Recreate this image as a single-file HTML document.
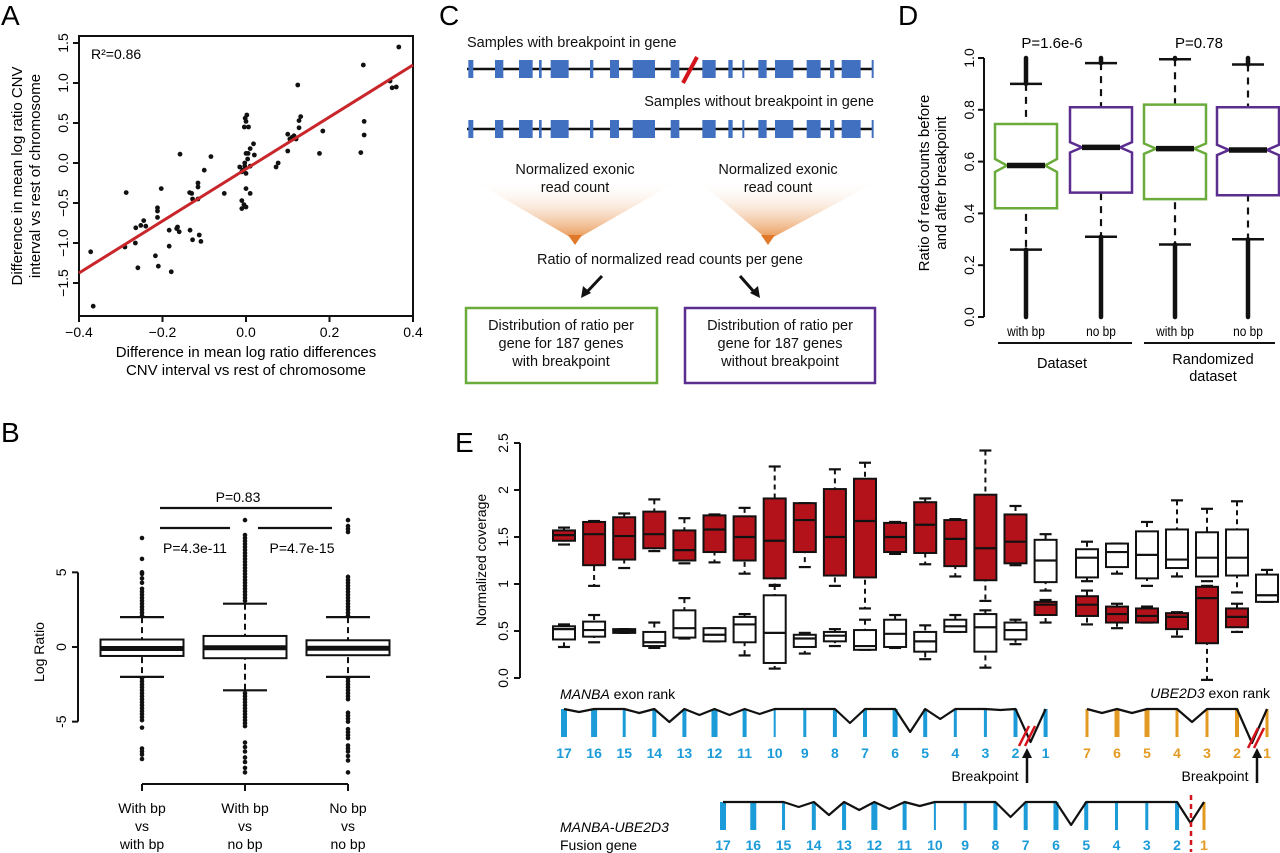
<!DOCTYPE html>
<html><head><meta charset="utf-8"><style>
html,body{margin:0;padding:0;background:#fff;}
svg{display:block;font-family:"Liberation Sans",sans-serif;}
</style></head><body>
<svg id="fig" width="1280" height="853" viewBox="0 0 1280 853" xmlns="http://www.w3.org/2000/svg">
<defs>
<linearGradient id="funnel" x1="0" y1="0" x2="0" y2="1">
<stop offset="0" stop-color="#fff" stop-opacity="0"/>
<stop offset="1" stop-color="#e8914a"/>
</linearGradient>
</defs>
<!-- panel letters -->
<text x="1" y="25" font-size="28">A</text>
<text x="1" y="442" font-size="28">B</text>
<text x="439" y="25" font-size="28">C</text>
<text x="898" y="25" font-size="28">D</text>
<text x="455" y="452" font-size="28">E</text>

<!-- Panel A -->
<g id="pa">
<rect x="79" y="36" width="334" height="280" fill="none" stroke="#111" stroke-width="2"/>
<text x="91" y="59" font-size="14">R²=0.86</text>
<text x="246" y="357" font-size="15" text-anchor="middle">Difference in mean log ratio differences</text>
<text x="246" y="375" font-size="15" text-anchor="middle">CNV interval vs rest of chromosome</text>
<text transform="translate(22,176) rotate(-90)" font-size="15" text-anchor="middle">Difference in mean log ratio CNV</text>
<text transform="translate(40,176) rotate(-90)" font-size="15" text-anchor="middle">interval vs rest of chromosome</text>
</g>

<!-- Panel B -->
<g id="pb">
<text transform="translate(44,652) rotate(-90)" font-size="14" text-anchor="middle">Log Ratio</text>
<line x1="160" y1="508" x2="332" y2="508" stroke="#111" stroke-width="2.2"/>
<line x1="160" y1="528" x2="230" y2="528" stroke="#111" stroke-width="2.2"/>
<line x1="258" y1="528" x2="332" y2="528" stroke="#111" stroke-width="2.2"/>
<text x="238" y="502" font-size="14" text-anchor="middle">P=0.83</text>
<text x="195" y="553" font-size="14" text-anchor="middle">P=4.3e-11</text>
<text x="302" y="553" font-size="14" text-anchor="middle">P=4.7e-15</text>
</g>

<!-- Panel C -->
<g id="pc" font-size="14.5" fill="#111">
<text x="467" y="47">Samples with breakpoint in gene</text>
<text x="874" y="106" text-anchor="end">Samples without breakpoint in gene</text>
<polygon points="472,180 680,180 575,240" fill="url(#funnel)"/>
<polygon points="698,180 880,180 768,240" fill="url(#funnel)"/>
<polygon points="568,235 582,235 575,245" fill="#e07a2a"/>
<polygon points="761,235 775,235 768,245" fill="#e07a2a"/>
<text x="575" y="174" text-anchor="middle">Normalized exonic</text>
<text x="575" y="192" text-anchor="middle">read count</text>
<text x="778" y="174" text-anchor="middle">Normalized exonic</text>
<text x="778" y="192" text-anchor="middle">read count</text>
<text x="670" y="264" text-anchor="middle">Ratio of normalized read counts per gene</text>
<line x1="602" y1="276" x2="586" y2="293" stroke="#111" stroke-width="3"/>
<polygon points="581,298 583,286 591,293" fill="#111"/>
<line x1="740" y1="276" x2="755" y2="293" stroke="#111" stroke-width="3"/>
<polygon points="760,298 750,293 758,286" fill="#111"/>
<rect x="466" y="308" width="191" height="75" fill="none" stroke="#6aab3b" stroke-width="2.5"/>
<rect x="685" y="308" width="190" height="75" fill="none" stroke="#5b2d8e" stroke-width="2.5"/>
<text x="561" y="330" text-anchor="middle">Distribution of ratio per</text>
<text x="561" y="348" text-anchor="middle">gene for 187 genes</text>
<text x="561" y="366" text-anchor="middle">with breakpoint</text>
<text x="780" y="330" text-anchor="middle">Distribution of ratio per</text>
<text x="780" y="348" text-anchor="middle">gene for 187 genes</text>
<text x="780" y="366" text-anchor="middle">without breakpoint</text>
</g>

<!-- Panel D -->
<g id="pd">
<text x="1052" y="48" font-size="15" text-anchor="middle">P=1.6e-6</text>
<text x="1199" y="48" font-size="15" text-anchor="middle">P=0.78</text>
<text transform="translate(929,183) rotate(-90)" font-size="15" text-anchor="middle">Ratio of readcounts before</text>
<text transform="translate(946,183) rotate(-90)" font-size="15" text-anchor="middle">and after breakpoint</text>
<line x1="998" y1="343" x2="1132" y2="343" stroke="#111" stroke-width="2"/>
<line x1="1144" y1="343" x2="1275" y2="343" stroke="#111" stroke-width="2"/>
<text x="1062" y="368" font-size="14.5" text-anchor="middle">Dataset</text>
<text x="1213" y="364" font-size="14.5" text-anchor="middle">Randomized</text>
<text x="1213" y="381" font-size="14.5" text-anchor="middle">dataset</text>
</g>

<!-- Panel E -->
<g id="pe">
<text transform="translate(486,560) rotate(-90)" font-size="14" text-anchor="middle">Normalized coverage</text>
<text x="560" y="699" font-size="14"><tspan font-style="italic">MANBA</tspan> exon rank</text>
<text x="1270" y="698" font-size="14" text-anchor="end"><tspan font-style="italic">UBE2D3</tspan> exon rank</text>
<text x="560" y="832" font-size="14" font-style="italic">MANBA-UBE2D3</text>
<text x="560" y="850" font-size="14">Fusion gene</text>
<text x="985" y="781" font-size="14" text-anchor="middle">Breakpoint</text>
<text x="1215" y="781" font-size="14" text-anchor="middle">Breakpoint</text>
</g>
</svg>
<script>
// ---------- Panel A data ----------
const aX = [0.366,0.281,0.345,0.35,0.36,0.283,0.283,0.275,0.184,0.176,0.124,0.131,0.127,0.127,0.10,0.11,0.115,0.12,0.105,0.10,0.077,0.072,0.002,-0.002,0.0,-0.004,0.006,0.018,0.01,0.02,0.0,0.005,-0.003,-0.003,-0.008,-0.015,-0.01,0.0,0.01,0.004,0.0,0.01,-0.01,-0.01,-0.005,0.0,-0.052,-0.084,-0.10,-0.115,-0.115,-0.115,-0.128,-0.135,-0.13,-0.134,-0.112,-0.128,-0.108,-0.164,-0.166,-0.16,-0.184,-0.184,-0.158,-0.203,-0.212,-0.212,-0.212,-0.217,-0.210,-0.179,-0.24,-0.245,-0.252,-0.264,-0.265,-0.259,-0.287,-0.29,-0.372,-0.366];
const aY = [1.45,1.225,1.025,0.94,0.95,0.52,0.35,0.13,0.40,0.12,0.975,0.58,0.53,0.44,0.36,0.32,0.34,0.30,0.30,0.15,0.0,-0.05,0.60,0.56,0.52,0.45,0.45,0.24,0.18,0.10,0.12,0.12,0.00,-0.04,-0.09,-0.05,-0.11,-0.13,-0.04,0.05,-0.32,-0.38,-0.47,-0.57,-0.52,-0.55,-0.38,0.08,-0.09,-0.25,-0.30,-0.45,-0.45,-0.37,-0.38,-0.84,-0.90,-0.96,-0.98,-0.80,-0.82,-0.86,-0.84,-1.04,0.11,-0.32,-0.56,-0.60,-0.68,-1.16,-1.29,-1.36,-0.79,-0.72,-0.78,-0.81,-1.0,-1.31,-0.37,-1.05,-1.11,-1.79];
const aXTicks = [-0.4,-0.2,0.0,0.2,0.4];
const aXTickLabels = ["\u22120.4","\u22120.2","0.0","0.2","0.4"];
const aYTicks = [-1.5,-1.0,-0.5,0.0,0.5,1.0,1.5];
const aYTickLabels = ["\u22121.5","\u22121.0","\u22120.5","0.0","0.5","1.0","1.5"];
const aFit = [3.25, -0.075]; // slope, intercept

// ---------- Panel B data ----------
const bCats = ["With bp|vs|with bp","With bp|vs|no bp","No bp|vs|no bp"];
const bQ1 = [-0.6,-0.75,-0.55];
const bMed = [-0.1,-0.05,-0.08];
const bQ3 = [0.5,0.74,0.45];
const bWLo = [-2.0,-2.9,-2.0];
const bWHi = [2.0,2.9,2.0];
const bOutHi0 = [2.1,2.3,2.5,2.7,2.9,3.1,3.3,3.5,3.7,3.9,4.3,4.6,4.9,5.0,5.9,7.3];
const bOutLo0 = [-2.1,-2.3,-2.5,-2.7,-2.9,-3.1,-3.3,-3.5,-3.7,-3.9,-4.1,-4.3,-4.5,-4.7,-4.9,-5.4,-6.8,-7.0,-7.2,-7.5];
const bOutHi1 = [3.1,3.3,3.5,3.7,3.9,4.1,4.3,4.5,4.7,4.9,5.1,5.3,5.5,5.7,5.9,6.1,6.3,6.5,6.7,6.9,7.1,7.3,7.5,8.5];
const bOutLo1 = [-3.1,-3.3,-3.5,-3.7,-3.9,-4.1,-4.3,-4.5,-4.7,-4.9,-5.1,-5.3,-6.4,-6.7,-7.0,-7.4,-7.7,-8.1,-8.4];
const bOutHi2 = [2.1,2.3,2.5,2.7,2.9,3.1,3.3,3.5,3.7,3.9,4.1,4.3,4.5,4.7,7.7,7.9,8.1,8.5];
const bOutLo2 = [-2.1,-2.3,-2.5,-2.7,-2.9,-3.1,-3.3,-3.5,-4.4,-4.6,-4.8,-5.0,-5.5,-5.7,-5.9,-6.1,-6.6,-6.8,-7.0,-7.3,-7.6,-8.4];
const bYTicks = [-5,0,5];
const bYTickLabels = ["-5","0","5"];

// ---------- Panel D data ----------
const dCats = ["with bp","no bp","with bp","no bp"];
const dQ1 = [0.42,0.48,0.455,0.47];
const dMed = [0.585,0.655,0.65,0.645];
const dQ3 = [0.745,0.81,0.82,0.81];
const dNotch = [0.025,0.02,0.02,0.02];
const dWHi = [0.90,0.98,0.995,0.975];
const dWLo = [0.26,0.31,0.28,0.30];
const dOutHiMax = [1.0,1.0,1.0,1.0];
const dOutLoMin = [0.0,0.0,0.0,0.0];
const dYTicks = [0.0,0.2,0.4,0.6,0.8,1.0];
const dYTickLabels = ["0.0","0.2","0.4","0.6","0.8","1.0"];

// ---------- Panel E data ----------
const eManbaRanks = [17,16,15,14,13,12,11,10,9,8,7,6,5,4,3,2,1];
const eUbeRanks = [7,6,5,4,3,2,1];
const eRedWLo = [1.42,0.98,1.17,1.35,1.22,1.23,1.11,0.98,1.18,0.98,0.74,1.32,1.21,1.08,0.82,1.20];
const eRedQ1  = [1.46,1.20,1.26,1.38,1.25,1.34,1.25,1.06,1.34,1.09,1.07,1.34,1.33,1.19,1.04,1.22];
const eRedMed = [1.52,1.53,1.51,1.53,1.36,1.58,1.50,1.46,1.68,1.50,1.67,1.50,1.63,1.48,1.38,1.45];
const eRedQ3  = [1.57,1.66,1.71,1.77,1.57,1.73,1.72,1.91,1.86,2.01,2.12,1.65,1.87,1.68,1.95,1.74];
const eRedWHi = [1.60,1.67,1.75,1.90,1.70,1.74,1.81,2.25,1.86,2.22,2.29,1.66,1.91,1.69,2.42,1.83];
const eWhtWLo = [0.33,0.38,0.48,0.32,0.42,0.39,0.24,0.10,0.26,0.34,0.30,0.32,0.20,0.49,0.11,0.36];
const eWhtQ1  = [0.41,0.44,0.48,0.34,0.43,0.39,0.38,0.16,0.33,0.39,0.30,0.33,0.28,0.49,0.28,0.41];
const eWhtMed = [0.52,0.51,0.50,0.38,0.53,0.46,0.57,0.48,0.42,0.45,0.34,0.47,0.39,0.55,0.54,0.51];
const eWhtQ3  = [0.55,0.60,0.52,0.49,0.72,0.53,0.65,0.88,0.46,0.49,0.51,0.62,0.49,0.62,0.68,0.59];
const eWhtWHi = [0.57,0.67,0.52,0.59,0.85,0.53,0.68,0.99,0.48,0.52,0.62,0.67,0.56,0.67,0.72,0.62];
const eEx1White = [0.93,1.02,1.25,1.47,1.53];
const eEx1Red = [0.59,0.67,0.78,0.81,0.83];
const eUWWLo = [1.03,1.11,0.98,1.08,1.03,0.91,0.81];
const eUWQ1  = [1.07,1.18,1.06,1.17,1.08,1.09,0.81];
const eUWMed = [1.28,1.34,1.31,1.26,1.28,1.28,0.88];
const eUWQ3  = [1.37,1.43,1.56,1.58,1.55,1.58,1.10];
const eUWWHi = [1.45,1.43,1.66,1.89,1.80,1.88,1.15];
const eURWLo = [0.57,0.53,0.59,0.44,-0.02,0.49];
const eURQ1  = [0.66,0.59,0.59,0.52,0.37,0.54];
const eURMed = [0.78,0.68,0.66,0.65,0.85,0.65];
const eURQ3  = [0.87,0.76,0.74,0.69,0.97,0.74];
const eURWHi = [0.93,0.79,0.76,0.70,0.98,0.79];
const eYTicks = [0,0.5,1,1.5,2,2.5];
const eYTickLabels = ["0.0","0.5","1","1.5","2","2.5"];
const eManbaExonW = [6,6,3,4,4,6,4,2,3,4,4,5,4,3,3,4,4];
const eManbaDips = [3,0,4,13,6,6,5,0,0,14,0,23,10,0,1,33];
const eUbeExonW = [3,5,5,3,3,4,3];
const eUbeDips = [4,4,0,13,0,34];
const eFusionRanks = [17,16,15,14,13,12,11,10,9,8,7,6,5,4,3,2,1];
const eFusionExonW = [6,6,3,4,4,6,4,2,3,4,4,5,4,3,3,4,3];
const eFusionDips = [0,0,5,13,8,7,4,0,0,15,0,23,0,0,0,21];

const NS = "http://www.w3.org/2000/svg";
function mk(tag, attrs, parent) {
  const el = document.createElementNS(NS, tag);
  for (const k in attrs) el.setAttribute(k, attrs[k]);
  parent.appendChild(el);
  return el;
}

// ===== Panel A =====
(function(){
  const g = document.getElementById('pa');
  const sx = v => 246 + 417.5 * v;
  const sy = v => 163 - 80 * v;
  aXTicks.forEach((t, i) => {
    const l = mk('line', {x1: sx(t), y1: 316, x2: sx(t), y2: 322, stroke: '#111', 'stroke-width': 2}, g);
    
    
    const tx = mk('text', {x: sx(t), y: 337, 'font-size': 14, 'text-anchor': 'middle'}, g);
    tx.textContent = aXTickLabels[i];
    
    
  });
  aYTicks.forEach((t, i) => {
    const l = mk('line', {x1: 73, y1: sy(t), x2: 79, y2: sy(t), stroke: '#111', 'stroke-width': 2}, g);
    
    
    const tx = mk('text', {transform: `translate(68,${sy(t)}) rotate(-90)`, 'font-size': 14, 'text-anchor': 'middle'}, g);
    tx.textContent = aYTickLabels[i];
    
    
  });
  aX.forEach((x, i) => {
    const c = mk('circle', {cx: sx(x), cy: sy(aY[i]), r: 2.4, fill: '#111'}, g);
    
    
  });
  const fl = mk('line', {x1: sx(-0.4), y1: sy(aFit[0]*-0.4+aFit[1]), x2: sx(0.4), y2: sy(aFit[0]*0.4+aFit[1]), stroke: '#c8262a', 'stroke-width': 3}, g);
  
  
})();

// ===== Panel B =====
(function(){
  const g = document.getElementById('pb');
  const sy = v => 647 - 14.93 * v;
  const cx = [142, 245, 348];
  const ax = mk('line', {x1: 78, y1: sy(5), x2: 78, y2: sy(-5), stroke: '#111', 'stroke-width': 2}, g);
  
  
  bYTicks.forEach((t, i) => {
    const l = mk('line', {x1: 72, y1: sy(t), x2: 78, y2: sy(t), stroke: '#111', 'stroke-width': 2}, g);
    
    
    const tx = mk('text', {transform: `translate(66,${sy(t)}) rotate(-90)`, 'font-size': 14, 'text-anchor': 'middle'}, g);
    tx.textContent = bYTickLabels[i];
    
    
  });
  const xa = mk('line', {x1: cx[0], y1: 784, x2: cx[2], y2: 784, stroke: '#111', 'stroke-width': 2}, g);
  
  
  const outs = [[bOutHi0, bOutLo0], [bOutHi1, bOutLo1], [bOutHi2, bOutLo2]];
  bCats.forEach((cat, i) => {
    const x = cx[i];
    const tk = mk('line', {x1: x, y1: 784, x2: x, y2: 791, stroke: '#111', 'stroke-width': 2}, g);
    
    
    cat.split('|').forEach((line, j) => {
      const t = mk('text', {x: x, y: 813 + j * 18, 'font-size': 14, 'text-anchor': 'middle'}, g);
      t.textContent = line;
      
      
    });
    const w1 = mk('line', {x1: x, y1: sy(bWHi[i]), x2: x, y2: sy(bWLo[i]), stroke: '#111', 'stroke-width': 2, 'stroke-dasharray': '6,4'}, g);
    
    
    [bWHi[i], bWLo[i]].forEach(v => {
      const cap = mk('line', {x1: x - 22, y1: sy(v), x2: x + 22, y2: sy(v), stroke: '#111', 'stroke-width': 2.2}, g);
      
      
    });
    outs[i][0].concat(outs[i][1]).forEach(v => {
      const c = mk('circle', {cx: x, cy: sy(v), r: 2.3, fill: '#111'}, g);
      
      
    });
    const r = mk('rect', {x: x - 41.5, y: sy(bQ3[i]), width: 83, height: sy(bQ1[i]) - sy(bQ3[i]), fill: '#fff', stroke: '#111', 'stroke-width': 2}, g);
    
    
    const m = mk('line', {x1: x - 41.5, y1: sy(bMed[i]), x2: x + 41.5, y2: sy(bMed[i]), stroke: '#111', 'stroke-width': 5}, g);
    
    
  });
})();

// ===== Panel C gene drawings =====
(function(){
  const g = document.getElementById('pc');
  const exStart = [85,165,237,297,332,450,510,578,692,787,865,907,955,1005,1100,1170,1205,1295];
  const exEnd   = [100,190,278,305,386,460,537,645,718,827,878,913,980,1060,1142,1183,1262,1300];
  [69, 129].forEach((y, k) => {
    const l = mk('line', {x1: 467, y1: y, x2: 873, y2: y, stroke: '#111', 'stroke-width': 2.5}, g);
    
    
    exStart.forEach((s, i) => {
      const r = mk('rect', {x: 440 + s / 3, y: y - 9, width: Math.max(2, (exEnd[i] - s) / 3), height: 18, fill: '#4270c0'}, g);
      
      
    });
  });
  const br = mk('line', {x1: 683, y1: 83, x2: 697, y2: 57, stroke: '#d4141c', 'stroke-width': 4}, g);
  
  
})();

// ===== Panel D =====
(function(){
  const g = document.getElementById('pd');
  const sy = v => 317 - 259 * v;
  const cx = [1026, 1101, 1175, 1248];
  const cols = ['#6aab3b', '#5b2d8e', '#6aab3b', '#5b2d8e'];
  const ax = mk('line', {x1: 984, y1: sy(1), x2: 984, y2: sy(0), stroke: '#111', 'stroke-width': 2}, g);
  
  
  dYTicks.forEach((t, i) => {
    const l = mk('line', {x1: 978, y1: sy(t), x2: 984, y2: sy(t), stroke: '#111', 'stroke-width': 2}, g);
    
    
    const tx = mk('text', {transform: `translate(974,${sy(t)}) rotate(-90)`, 'font-size': 14, 'text-anchor': 'middle'}, g);
    tx.textContent = dYTickLabels[i];
    
    
  });
  dCats.forEach((cat, i) => {
    const x = cx[i], x0 = x - 31, x1 = x + 31, ind = 12;
    const t = mk('text', {x: x, y: 336, 'font-size': 14, 'text-anchor': 'middle', transform: `translate(${x},0) scale(0.85,1) translate(${-x},0)`}, g);
    t.textContent = cat;
    
    
    const w = mk('line', {x1: x, y1: sy(dWHi[i]), x2: x, y2: sy(dWLo[i]), stroke: '#111', 'stroke-width': 2.2, 'stroke-dasharray': '7,6'}, g);
    
    
    [dWHi[i], dWLo[i]].forEach(v => {
      const cap = mk('line', {x1: x - 16, y1: sy(v), x2: x + 16, y2: sy(v), stroke: '#111', 'stroke-width': 2.5}, g);
      
      
    });
    const o1 = mk('line', {x1: x, y1: sy(dOutHiMax[i]), x2: x, y2: sy(dWHi[i]), stroke: '#111', 'stroke-width': 4.5, 'stroke-linecap': 'round'}, g);
    
    
    const o2 = mk('line', {x1: x, y1: sy(dWLo[i]), x2: x, y2: sy(dOutLoMin[i]), stroke: '#111', 'stroke-width': 4.5, 'stroke-linecap': 'round'}, g);
    
    
    const yq3 = sy(dQ3[i]), yq1 = sy(dQ1[i]), ym = sy(dMed[i]);
    const nh = sy(dMed[i] + dNotch[i]), nl = sy(dMed[i] - dNotch[i]);
    const p = mk('path', {d: `M${x0},${yq3}L${x1},${yq3}L${x1},${nh}L${x1-ind},${ym}L${x1},${nl}L${x1},${yq1}L${x0},${yq1}L${x0},${nl}L${x0+ind},${ym}L${x0},${nh}Z`, fill: '#fff', stroke: cols[i], 'stroke-width': 2.5}, g);
    
    
    const m = mk('line', {x1: x0 + ind, y1: ym, x2: x1 - ind, y2: ym, stroke: '#111', 'stroke-width': 5.5}, g);
    
    
  });
})();

// ===== Panel E =====
(function(){
  const g = document.getElementById('pe');
  const sy = v => 678 - 94 * v;
  const mx = i => 564 + 30.1 * i;
  const ux = i => 1087 + 30 * i;
  const RED = '#b3121b';
  const ax = mk('line', {x1: 520, y1: sy(2.5), x2: 520, y2: sy(0), stroke: '#111', 'stroke-width': 2}, g);
  
  
  eYTicks.forEach((t, i) => {
    const l = mk('line', {x1: 514, y1: sy(t), x2: 520, y2: sy(t), stroke: '#111', 'stroke-width': 2}, g);
    
    
    const tx = mk('text', {transform: `translate(508,${sy(t)}) rotate(-90)`, 'font-size': 14, 'text-anchor': 'middle'}, g);
    tx.textContent = eYTickLabels[i];
    
    
  });
  function box(x, s, fill, name) {
    const w = mk('line', {x1: x, y1: sy(s[4]), x2: x, y2: sy(s[0]), stroke: '#111', 'stroke-width': 2, 'stroke-dasharray': '5,4'}, g);
    
    
    [s[0], s[4]].forEach(v => {
      const c = mk('line', {x1: x - 6, y1: sy(v), x2: x + 6, y2: sy(v), stroke: '#111', 'stroke-width': 2.2}, g);
      
      
    });
    const r = mk('rect', {x: x - 11, y: sy(s[3]), width: 22, height: Math.max(1, sy(s[1]) - sy(s[3])), fill: fill, stroke: '#111', 'stroke-width': 2}, g);
    
    
    const m = mk('line', {x1: x - 11, y1: sy(s[2]), x2: x + 11, y2: sy(s[2]), stroke: '#111', 'stroke-width': 2.2}, g);
    
    
  }
  for (let i = 0; i < 16; i++) {
    box(mx(i), [eWhtWLo[i], eWhtQ1[i], eWhtMed[i], eWhtQ3[i], eWhtWHi[i]], '#fff', 'box-manba-no-bp');
    box(mx(i), [eRedWLo[i], eRedQ1[i], eRedMed[i], eRedQ3[i], eRedWHi[i]], RED, 'box-manba-with-bp');
  }
  box(mx(16), eEx1White, '#fff', 'box-manba-exon1-no-bp');
  box(mx(16), eEx1Red, RED, 'box-manba-exon1-with-bp');
  for (let i = 0; i < 7; i++) {
    box(ux(i), [eUWWLo[i], eUWQ1[i], eUWMed[i], eUWQ3[i], eUWWHi[i]], '#fff', 'box-ube2d3-no-bp');
  }
  for (let i = 0; i < 6; i++) {
    box(ux(i), [eURWLo[i], eURQ1[i], eURMed[i], eURQ3[i], eURWHi[i]], RED, 'box-ube2d3-with-bp');
  }

  function gene(xs, ranks, widths, dips, colors, top, bottom, labY, name) {
    xs.forEach((x, i) => {
      const r = mk('rect', {x: x - widths[i] / 2, y: top, width: widths[i], height: bottom - top, fill: colors[i]}, g);
      
      
      const t = mk('text', {x: x, y: labY, 'font-size': 14, 'font-weight': 'bold', fill: colors[i], 'text-anchor': 'middle'}, g);
      t.textContent = ranks[i];
      
      
    });
    let pts = [];
    xs.forEach((x, i) => {
      pts.push(`${x},${top}`);
      if (i < dips.length && dips[i] > 0) pts.push(`${(x + xs[i + 1]) / 2},${top + dips[i]}`);
    });
    const pl = mk('polyline', {points: pts.join(' '), fill: 'none', stroke: '#111', 'stroke-width': 2.2, 'stroke-linejoin': 'round'}, g);
    
    
  }
  const BLUE = '#1b9bd7', ORG = '#e39a23';
  gene(eManbaRanks.map((r, i) => mx(i)), eManbaRanks, eManbaExonW, eManbaDips, eManbaRanks.map(() => BLUE), 709, 737, 758, 'manba');
  gene(eUbeRanks.map((r, i) => ux(i)), eUbeRanks, eUbeExonW, eUbeDips, eUbeRanks.map(() => ORG), 709, 737, 758, 'ube2d3');
  const fx = eFusionRanks.map((r, i) => i < 16 ? 723 + 30.27 * i : 1204);
  gene(fx, eFusionRanks, eFusionExonW, eFusionDips, eFusionRanks.map((r, i) => i < 16 ? BLUE : ORG), 802, 830, 850, 'fusion');

  [[1027, 738], [1256, 740]].forEach(([x, y]) => {
    [-3, 3].forEach(d => {
      const s = mk('line', {x1: x + d - 5, y1: y + 8, x2: x + d + 5, y2: y - 12, stroke: '#d4141c', 'stroke-width': 2.5}, g);
      
      
    });
  });
  [1027, 1257].forEach(x => {
    const a = mk('line', {x1: x, y1: 783, x2: x, y2: 756, stroke: '#111', 'stroke-width': 2.5}, g);
    
    
    const h = mk('polygon', {points: `${x - 5},${758} ${x + 5},${758} ${x},${748}`, fill: '#111'}, g);
    
    
  });
  const fd = mk('line', {x1: 1191, y1: 795, x2: 1191, y2: 852, stroke: '#d4141c', 'stroke-width': 2.5, 'stroke-dasharray': '5,4'}, g);
  
  
})();
</script>
</body></html>
